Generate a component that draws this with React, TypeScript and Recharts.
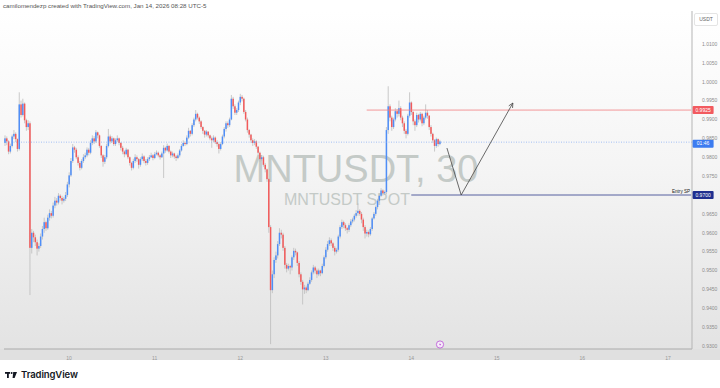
import { ComposedChart, Bar, XAxis, YAxis, ReferenceLine, ReferenceDot } from "recharts";

// MNTUSDT 30m candles, Jan 9 06:00 -> Jan 14 08:00 (open = previous close)
const firstOpen = 0.9838;
const closes = [
  0.9850, 0.9842, 0.9815, 0.9830, 0.9855, 0.9862, 0.9848, 0.9822, 0.9940, 0.9912,
  0.9942, 0.9898, 0.9880, 0.9890, 0.9560, 0.9600, 0.9588, 0.9575, 0.9558, 0.9565,
  0.9590, 0.9610, 0.9628, 0.9612, 0.9640, 0.9652, 0.9645, 0.9672, 0.9685, 0.9680,
  0.9698, 0.9692, 0.9685, 0.9690, 0.9700, 0.9728, 0.9752, 0.9790, 0.9826, 0.9820,
  0.9800, 0.9785, 0.9772, 0.9790, 0.9800, 0.9805, 0.9820, 0.9812, 0.9838, 0.9850,
  0.9842, 0.9866, 0.9858, 0.9830, 0.9805, 0.9788, 0.9800, 0.9830, 0.9855, 0.9842,
  0.9850, 0.9835, 0.9845, 0.9850, 0.9838, 0.9825, 0.9815, 0.9808, 0.9820, 0.9800,
  0.9785, 0.9772, 0.9790, 0.9800, 0.9795, 0.9780, 0.9795, 0.9802, 0.9790, 0.9785,
  0.9795, 0.9800, 0.9805, 0.9798, 0.9808, 0.9812, 0.9805, 0.9800, 0.9810, 0.9825,
  0.9818, 0.9830, 0.9815, 0.9805, 0.9810, 0.9802, 0.9798, 0.9805, 0.9818, 0.9830,
  0.9838, 0.9835, 0.9852, 0.9870, 0.9862, 0.9885, 0.9900, 0.9915, 0.9905, 0.9895,
  0.9880, 0.9870, 0.9860, 0.9868, 0.9858, 0.9850, 0.9845, 0.9852, 0.9840, 0.9835,
  0.9822, 0.9835, 0.9855, 0.9875, 0.9890, 0.9885, 0.9900, 0.9955, 0.9935, 0.9918,
  0.9925, 0.9945, 0.9960, 0.9955, 0.9920, 0.9900, 0.9872, 0.9860, 0.9845, 0.9838,
  0.9842, 0.9828, 0.9812, 0.9795, 0.9800, 0.9780, 0.9768, 0.9742, 0.9615, 0.9448,
  0.9490, 0.9528, 0.9540, 0.9570, 0.9600, 0.9595, 0.9560, 0.9515, 0.9505, 0.9512,
  0.9508, 0.9535, 0.9552, 0.9548, 0.9520, 0.9490, 0.9470, 0.9450, 0.9455, 0.9448,
  0.9465, 0.9475, 0.9495, 0.9508, 0.9500, 0.9490, 0.9500, 0.9493, 0.9512, 0.9535,
  0.9555, 0.9570, 0.9580, 0.9572, 0.9560, 0.9550, 0.9555, 0.9590, 0.9615, 0.9628,
  0.9620, 0.9612, 0.9608, 0.9620, 0.9630, 0.9635, 0.9645, 0.9652, 0.9658, 0.9650,
  0.9635, 0.9615, 0.9598, 0.9602, 0.9596, 0.9610, 0.9638, 0.9650, 0.9668, 0.9685,
  0.9698, 0.9712, 0.9705, 0.9708, 0.9872, 0.9935, 0.9905, 0.9880, 0.9900, 0.9922,
  0.9915, 0.9930, 0.9905, 0.9890, 0.9870, 0.9862, 0.9910, 0.9945, 0.9920, 0.9895,
  0.9885, 0.9912, 0.9900, 0.9915, 0.9890, 0.9905, 0.9918, 0.9910, 0.9880, 0.9862,
  0.9845, 0.9830, 0.9848, 0.9835, 0.9842,
];
const highs = [
  0.9858, 0.9855, 0.9845, 0.9836, 0.9860, 0.9872, 0.9866, 0.9850, 0.9972, 0.9950,
  0.9955, 0.9945, 0.9902, 0.9898, 0.9895, 0.9610, 0.9605, 0.9595, 0.9582, 0.9572,
  0.9598, 0.9618, 0.9640, 0.9632, 0.9648, 0.9662, 0.9658, 0.9680, 0.9695, 0.9692,
  0.9705, 0.9702, 0.9698, 0.9695, 0.9708, 0.9735, 0.9760, 0.9798, 0.9835, 0.9830,
  0.9825, 0.9805, 0.9790, 0.9795, 0.9808, 0.9812, 0.9826, 0.9825, 0.9845, 0.9858,
  0.9856, 0.9872, 0.9868, 0.9860, 0.9832, 0.9808, 0.9806, 0.9836, 0.9875, 0.9860,
  0.9856, 0.9852, 0.9850, 0.9858, 0.9852, 0.9840, 0.9830, 0.9818, 0.9825, 0.9822,
  0.9802, 0.9788, 0.9796, 0.9808, 0.9805, 0.9798, 0.9800, 0.9810, 0.9805, 0.9795,
  0.9800, 0.9806, 0.9812, 0.9808, 0.9814, 0.9818, 0.9815, 0.9808, 0.9815, 0.9832,
  0.9828, 0.9836, 0.9832, 0.9818, 0.9815, 0.9812, 0.9806, 0.9810, 0.9822, 0.9835,
  0.9845, 0.9842, 0.9858, 0.9878, 0.9872, 0.9890, 0.9905, 0.9925, 0.9918, 0.9908,
  0.9898, 0.9882, 0.9872, 0.9872, 0.9868, 0.9860, 0.9855, 0.9858, 0.9855, 0.9845,
  0.9838, 0.9840, 0.9860, 0.9880, 0.9895, 0.9895, 0.9905, 0.9965, 0.9960, 0.9940,
  0.9930, 0.9950, 0.9968, 0.9965, 0.9958, 0.9925, 0.9905, 0.9875, 0.9862, 0.9850,
  0.9848, 0.9845, 0.9830, 0.9815, 0.9806, 0.9804, 0.9785, 0.9770, 0.9745, 0.9620,
  0.9500, 0.9535, 0.9550, 0.9578, 0.9612, 0.9608, 0.9600, 0.9565, 0.9520, 0.9518,
  0.9515, 0.9540, 0.9560, 0.9558, 0.9550, 0.9525, 0.9495, 0.9475, 0.9462, 0.9460,
  0.9470, 0.9482, 0.9500, 0.9515, 0.9512, 0.9505, 0.9505, 0.9502, 0.9518, 0.9540,
  0.9562, 0.9578, 0.9588, 0.9585, 0.9575, 0.9565, 0.9560, 0.9595, 0.9620, 0.9635,
  0.9632, 0.9625, 0.9615, 0.9625, 0.9636, 0.9640, 0.9650, 0.9660, 0.9678, 0.9662,
  0.9655, 0.9640, 0.9620, 0.9608, 0.9606, 0.9615, 0.9642, 0.9655, 0.9672, 0.9690,
  0.9702, 0.9718, 0.9715, 0.9712, 0.9880, 0.9988, 0.9940, 0.9910, 0.9905, 0.9930,
  0.9928, 0.9950, 0.9935, 0.9910, 0.9895, 0.9875, 0.9915, 0.9972, 0.9948, 0.9922,
  0.9900, 0.9918, 0.9915, 0.9920, 0.9918, 0.9910, 0.9940, 0.9925, 0.9912, 0.9885,
  0.9865, 0.9848, 0.9852, 0.9850, 0.9846,
];
const lows = [
  0.9830, 0.9832, 0.9808, 0.9810, 0.9826, 0.9848, 0.9840, 0.9815, 0.9818, 0.9905,
  0.9908, 0.9890, 0.9870, 0.9872, 0.9435, 0.9545, 0.9575, 0.9565, 0.9540, 0.9550,
  0.9560, 0.9582, 0.9600, 0.9605, 0.9608, 0.9632, 0.9638, 0.9640, 0.9665, 0.9672,
  0.9675, 0.9685, 0.9675, 0.9680, 0.9684, 0.9695, 0.9720, 0.9748, 0.9785, 0.9812,
  0.9795, 0.9778, 0.9765, 0.9768, 0.9785, 0.9795, 0.9800, 0.9805, 0.9808, 0.9832,
  0.9835, 0.9838, 0.9850, 0.9825, 0.9798, 0.9775, 0.9782, 0.9795, 0.9826, 0.9836,
  0.9838, 0.9830, 0.9830, 0.9840, 0.9832, 0.9818, 0.9808, 0.9800, 0.9805, 0.9795,
  0.9778, 0.9765, 0.9768, 0.9785, 0.9788, 0.9770, 0.9775, 0.9790, 0.9784, 0.9778,
  0.9780, 0.9790, 0.9798, 0.9792, 0.9795, 0.9805, 0.9800, 0.9794, 0.9798, 0.9745,
  0.9812, 0.9815, 0.9810, 0.9798, 0.9800, 0.9796, 0.9790, 0.9795, 0.9800, 0.9815,
  0.9828, 0.9830, 0.9832, 0.9848, 0.9855, 0.9858, 0.9880, 0.9895, 0.9900, 0.9888,
  0.9875, 0.9862, 0.9852, 0.9855, 0.9852, 0.9845, 0.9825, 0.9840, 0.9835, 0.9828,
  0.9810, 0.9818, 0.9832, 0.9850, 0.9868, 0.9878, 0.9880, 0.9898, 0.9928, 0.9912,
  0.9912, 0.9920, 0.9938, 0.9948, 0.9915, 0.9895, 0.9865, 0.9852, 0.9838, 0.9830,
  0.9832, 0.9822, 0.9805, 0.9788, 0.9790, 0.9775, 0.9760, 0.9735, 0.9600, 0.9305,
  0.9440, 0.9480, 0.9520, 0.9532, 0.9565, 0.9585, 0.9552, 0.9505, 0.9495, 0.9500,
  0.9490, 0.9500, 0.9528, 0.9540, 0.9512, 0.9482, 0.9462, 0.9410, 0.9438, 0.9440,
  0.9445, 0.9462, 0.9470, 0.9490, 0.9492, 0.9480, 0.9485, 0.9485, 0.9490, 0.9508,
  0.9530, 0.9550, 0.9565, 0.9565, 0.9552, 0.9540, 0.9545, 0.9550, 0.9585, 0.9610,
  0.9612, 0.9605, 0.9598, 0.9602, 0.9615, 0.9625, 0.9630, 0.9640, 0.9645, 0.9645,
  0.9625, 0.9605, 0.9585, 0.9590, 0.9588, 0.9592, 0.9605, 0.9635, 0.9645, 0.9662,
  0.9680, 0.9695, 0.9698, 0.9700, 0.9702, 0.9862, 0.9895, 0.9870, 0.9875, 0.9895,
  0.9905, 0.9908, 0.9898, 0.9880, 0.9862, 0.9850, 0.9858, 0.9905, 0.9912, 0.9885,
  0.9870, 0.9880, 0.9892, 0.9895, 0.9882, 0.9885, 0.9900, 0.9902, 0.9872, 0.9855,
  0.9838, 0.9815, 0.9825, 0.9828, 0.9832,
];

const totalSlots = 386;
const dayTicks = [36, 84, 132, 180, 228, 276, 324, 372];
const dayLabels = ["10", "11", "12", "13", "14", "15", "16", "17"];
// 0.9700 is covered by the "Entry SP" price tag, so it is not listed
const priceTicks = [
  0.93, 0.935, 0.94, 0.945, 0.95, 0.955, 0.96, 0.965, 0.975, 0.98,
  0.985, 0.99, 0.995, 1.0, 1.005, 1.01,
];
const lastPrice = 0.984;
const resistance = 0.9925;
const entryPrice = 0.97;
// hand-drawn projection: [slot, price]
const pathPoints = [
  [248, 0.98245],
  [256, 0.97],
  [285, 0.99437],
];

const UP = "#4f8ef7";
const DOWN = "#f25a5a";
const FONT = "'Liberation Sans', Arial, sans-serif";

const rows = Array.from({ length: totalSlots }, (_, i) => {
  if (i >= closes.length) return { i };
  const o = i === 0 ? firstOpen : closes[i - 1];
  const c = closes[i];
  const h = Math.max(highs[i], o, c);
  const l = Math.min(lows[i], o, c);
  return { i, o, c, range: [l, h] };
});

const Candle = (props: any) => {
  const { x, y, width, height, payload } = props;
  if (!payload || payload.o == null) return null;
  const [lo, hi] = payload.range;
  const top = Math.min(y, y + height);
  const bot = Math.max(y, y + height);
  const px = (v: number) => (hi === lo ? top : top + ((hi - v) / (hi - lo)) * (bot - top));
  const cx = x + width / 2;
  const up = payload.c >= payload.o;
  const y1 = px(Math.max(payload.o, payload.c));
  const y2 = px(Math.min(payload.o, payload.c));
  const bw = 1.5;
  return (
    <g>
      <line x1={cx} x2={cx} y1={top} y2={bot} stroke="#bdbdbd" strokeWidth={0.8} />
      <rect x={cx - bw / 2} y={y1} width={bw} height={Math.max(0.8, y2 - y1)} fill={up ? UP : DOWN} />
    </g>
  );
};

const axisTag = (fill: string, text: string, dy = 0) => (p: any) => (
  <g>
    <rect x={p.cx + 1.5} y={p.cy - 4 + dy} width={21} height={8} fill={fill} rx={1} />
    <text x={p.cx + 12} y={p.cy + 1.8 + dy} fontSize={5} fill="#fff" textAnchor="middle" fontFamily={FONT}>
      {text}
    </text>
  </g>
);

const entryText = (p: any) => (
  <text x={p.cx - 1} y={p.cy - 1.6} fontSize={4.6} fill="#222" textAnchor="end" fontFamily={FONT}>
    Entry SP
  </text>
);

const ArrowSeg = (p: any) => {
  const { x1, y1, x2, y2 } = p;
  const a = Math.atan2(y2 - y1, x2 - x1);
  const L = 5;
  const h1x = x2 - L * Math.cos(a - 0.45);
  const h1y = y2 - L * Math.sin(a - 0.45);
  const h2x = x2 - L * Math.cos(a + 0.45);
  const h2y = y2 - L * Math.sin(a + 0.45);
  return (
    <g stroke="#454545" strokeWidth={0.8} fill="none">
      <line x1={x1} y1={y1} x2={x2} y2={y2} />
      <polyline points={`${h1x},${h1y} ${x2},${y2} ${h2x},${h2y}`} />
    </g>
  );
};

export default function App() {
  const last = rows.length - 1;
  return (
    <div style={{ position: "absolute", left: 0, top: 0, width: 720, height: 388, background: "#fff", overflow: "hidden", fontFamily: FONT }}>
      <div style={{ position: "absolute", left: 3, top: 2, fontSize: 6.2, color: "#555", whiteSpace: "nowrap" }}>
        camilomendezp created with TradingView.com, Jan 14, 2026 08:28 UTC-5
      </div>
      <div
        style={{
          position: "absolute",
          left: 0,
          top: 11,
          width: 720,
          height: 338,
          background: "linear-gradient(to bottom, #ffffff 0%, #f5f5f5 45%, #e3e3e3 100%)",
        }}
      />
      <div style={{ position: "absolute", left: 0, top: 349, width: 720, height: 11, background: "#e0e0e0" }} />
      <div style={{ position: "absolute", left: 0, top: 149, width: 692, textAlign: "center" }}>
        <div style={{ fontSize: 38, color: "#c4cac7", lineHeight: "40px", paddingLeft: 20 }}>MNTUSDT, 30</div>
        <div style={{ fontSize: 16, color: "#c4cac7", lineHeight: "18px", marginTop: 2, paddingLeft: 2 }}>MNTUSDT SPOT</div>
      </div>
      <div style={{ position: "absolute", left: 0, top: 0 }}>
        <ComposedChart
          width={720}
          height={360}
          data={rows}
          margin={{ top: 11, right: 0, bottom: 0, left: 4 }}
          barCategoryGap={0}
        >
          <XAxis
            dataKey="i"
            type="category"
            ticks={dayTicks}
            interval={0}
            tickFormatter={(v: number) => dayLabels[dayTicks.indexOf(v)] ?? ""}
            height={11}
            tickLine={false}
            axisLine={{ stroke: "#aaaaaa" }}
            tick={{ fontSize: 5, fill: "#999", fontFamily: FONT }}
            tickMargin={1}
          />
          <YAxis
            orientation="right"
            width={28}
            domain={[0.92921, 1.01874]}
            allowDataOverflow
            ticks={priceTicks}
            interval={0}
            tickFormatter={(v: number) => v.toFixed(4)}
            tickLine={false}
            axisLine={{ stroke: "#b5b5b5" }}
            tick={{ fontSize: 5, fill: "#8c8c8c", fontFamily: FONT }}
            tickMargin={4}
          />
          <ReferenceLine y={lastPrice} stroke="#7ea6f0" strokeDasharray="1 1.5" strokeWidth={0.7} />
          <ReferenceLine
            segment={[{ x: 203, y: resistance }, { x: last, y: resistance }]}
            stroke="#f07c80"
            strokeWidth={0.8}
          />
          <ReferenceLine
            segment={[{ x: 228, y: entryPrice }, { x: last, y: entryPrice }]}
            stroke="#2d3a8c"
            strokeWidth={0.8}
          />
          <Bar dataKey="range" shape={Candle} isAnimationActive={false} />
          <ReferenceLine
            segment={[
              { x: pathPoints[0][0], y: pathPoints[0][1] },
              { x: pathPoints[1][0], y: pathPoints[1][1] },
            ]}
            stroke="#454545"
            strokeWidth={0.8}
          />
          <ReferenceLine
            segment={[
              { x: pathPoints[1][0], y: pathPoints[1][1] },
              { x: pathPoints[2][0], y: pathPoints[2][1] },
            ]}
            shape={ArrowSeg}
          />
          <ReferenceDot x={last} y={entryPrice} r={0} ifOverflow="visible" shape={entryText} />
          <ReferenceDot x={last} y={resistance} r={0} ifOverflow="visible" shape={axisTag("#f25a5f", resistance.toFixed(4))} />
          <ReferenceDot x={last} y={lastPrice} r={0} ifOverflow="visible" shape={axisTag("#3d7cf0", "01:46", 1.5)} />
          <ReferenceDot x={last} y={entryPrice} r={0} ifOverflow="visible" shape={axisTag("#1f2f8f", entryPrice.toFixed(4))} />
        </ComposedChart>
      </div>
      <div
        style={{
          position: "absolute",
          left: 694,
          top: 13,
          width: 22,
          height: 11,
          background: "#fff",
          border: "0.5px solid #e4e4e4",
          borderRadius: 2,
          fontSize: 5,
          color: "#666",
          textAlign: "center",
          lineHeight: "11px",
        }}
      >
        USDT
      </div>
      <svg style={{ position: "absolute", left: 0, top: 0 }} width={720} height={388}>
        <circle cx={440} cy={344.5} r={3.6} fill="#f6ecf9" stroke="#b94fd6" strokeWidth={0.8} />
        <path d="M440.6 342.3 L439 344.8 L440.3 344.8 L439.5 346.8 L441.2 344.1 L439.9 344.1 Z" fill="#b94fd6" />
        <g fill="#131722">
          <rect x={5} y={372} width={5} height={1.8} />
          <rect x={7} y={372} width={1.8} height={6} />
          <circle cx={11.6} cy={373} r={1} />
          <path d="M13.2 372 L17 372 L14.6 378 L12.6 378 Z" />
        </g>
      </svg>
      <div style={{ position: "absolute", left: 21, top: 369, fontSize: 9.5, fontWeight: 600, color: "#131722", fontFamily: "Inter, 'Liberation Sans', sans-serif", letterSpacing: -0.1 }}>
        TradingView
      </div>
    </div>
  );
}
